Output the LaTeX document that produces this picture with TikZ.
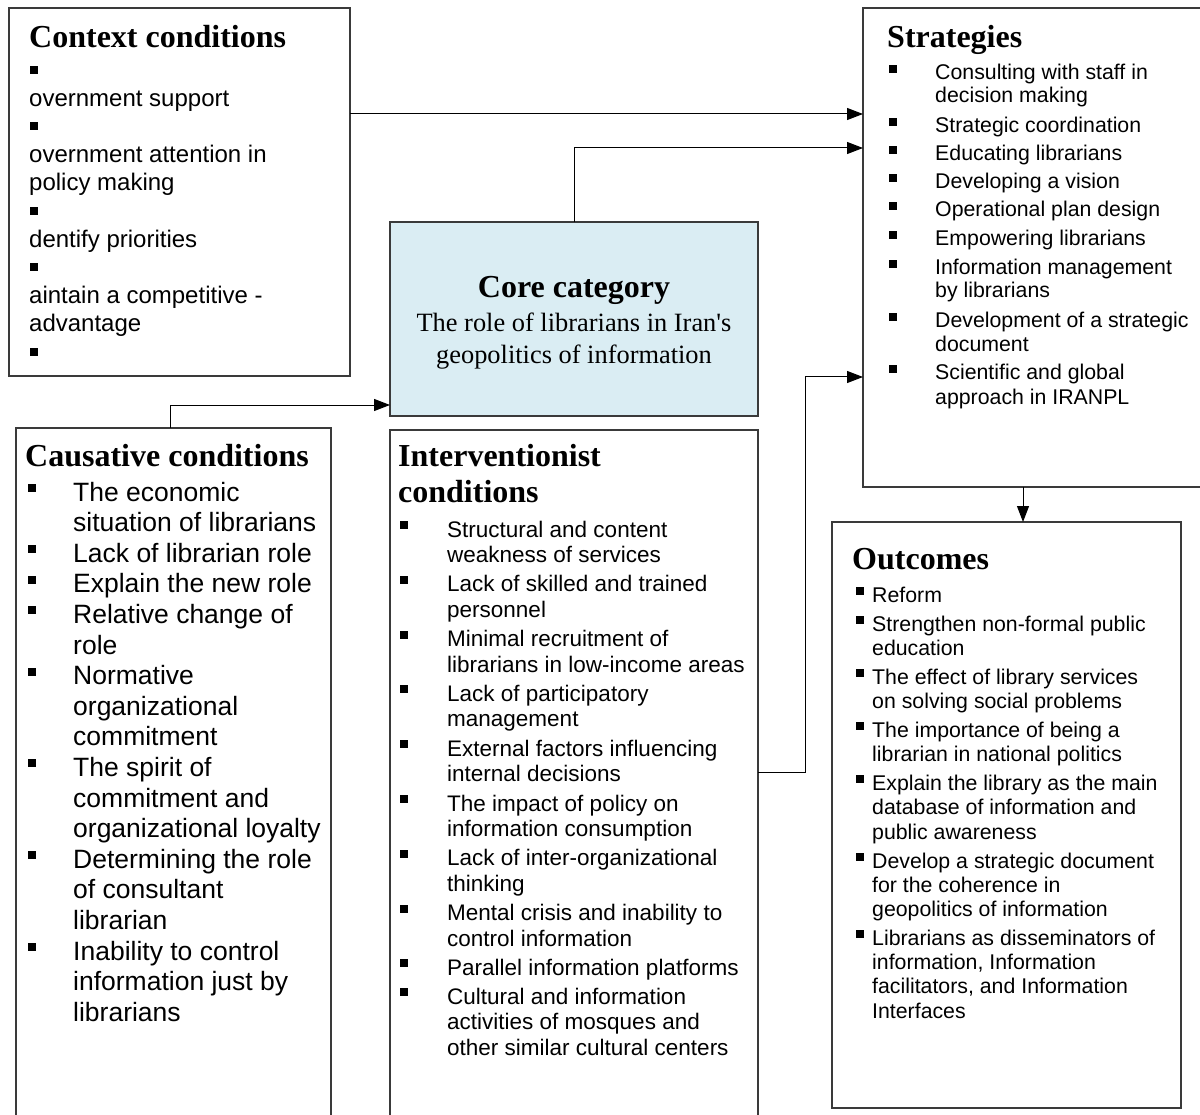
\documentclass[tikz,border=0pt]{standalone}
\usepackage{fontspec}
\setmainfont{Liberation Serif}
\setsansfont{Liberation Sans}
\newfontfamily\rawserif{Liberation Serif}[Ligatures=TeXOff]
\usetikzlibrary{arrows.meta}
\definecolor{coreblue}{HTML}{DAEDF3}
\definecolor{boxline}{HTML}{3A3A3A}
\begin{document}
\begin{tikzpicture}[x=1pt,y=-1pt,
  box/.style={draw=boxline, line width=1.4pt, inner sep=0pt, outer sep=0pt, anchor=north west},
  ttl/.style={font=\bfseries\fontsize{32}{32}\selectfont, inner sep=0pt, anchor=base west},
  ctxtxt/.style={font=\sffamily\fontsize{24}{24}\selectfont, inner sep=0pt, anchor=base west},
  strtxt/.style={font=\sffamily\fontsize{21.3}{21.3}\selectfont, inner sep=0pt, anchor=base west},
  cautxt/.style={font=\sffamily\fontsize{26.5}{26.5}\selectfont, inner sep=0pt, anchor=base west},
  inttxt/.style={font=\sffamily\fontsize{22.5}{22.5}\selectfont, inner sep=0pt, anchor=base west},
  outtxt/.style={font=\sffamily\fontsize{21.3}{21.3}\selectfont, inner sep=0pt, anchor=base west},
  coretxt/.style={font=\rawserif\fontsize{26.4}{26.4}\selectfont, inner sep=0pt, anchor=base},
  arr/.style={draw=black, line width=1pt, -{Triangle[length=16pt,width=12pt]}}
]
\useasboundingbox (0,0) rectangle (1200,1115);
\fill[white] (0,0) rectangle (1200,1115);

% boxes
\node[box, minimum width=341, minimum height=368] (ctx) at (9,8) {};
\node[box, minimum width=342, minimum height=479] (str) at (863,8) {};
\node[box, fill=coreblue, minimum width=368, minimum height=194] (core) at (390,222) {};
\node[box, minimum width=315, minimum height=700] (cau) at (16,428) {};
\node[box, minimum width=368, minimum height=700] (int) at (390,430) {};
\node[box, minimum width=349, minimum height=586] (out) at (832,522) {};

% connectors
\draw[arr] ([yshift=-106]ctx.north east) -- ([yshift=-106]str.north west);
\draw[arr] (core.north) |- ([yshift=-140]str.north west);
\draw[arr] ([xshift=-3.5]cau.north) |- ([yshift=11]core.south west);
\draw[arr] ([yshift=-342]int.north east) -- ++(47,0) |- ([yshift=-369]str.north west);
\coordinate (sb) at ([xshift=-11]str.south);
\draw[arr] (sb) -- (sb |- out.north);

% Context conditions
\node[ttl] (ctxt) at (29,47.7) {Context conditions};
\foreach \yy/\bb/\tx [count=\i] in {78/1/{}, 106.2/0/{overnment support}, 134.4/1/{},
  162.6/0/{overnment attention in}, 190.8/0/{policy making}, 219/1/{},
  247.2/0/{dentify priorities}, 275.4/1/{}, 303.6/0/{aintain a competitive -},
  331.8/0/{advantage}, 360/1/{}}{
  \ifnum\bb=1 \fill (30,\yy-12) rectangle ++(8,8);\else
  \node[ctxtxt] (c\i) at (29,\yy) {\tx};\fi
}

% Strategies
\node[ttl] (strt) at (887,47.7) {Strategies};
\foreach \yy/\bb/\tx [count=\i] in {80/1/{Consulting with staff in}, 103/0/{decision making},
  132.7/1/{Strategic coordination}, 161/1/{Educating librarians}, 189/1/{Developing a vision},
  217/1/{Operational plan design}, 246/1/{Empowering librarians},
  275/1/{Information management}, 298/0/{by librarians},
  328/1/{Development of a strategic}, 352/0/{document},
  380/1/{Scientific and global}, 404/0/{approach in IRANPL}}{
  \node[strtxt] (s\i) at (935,\yy) {\tx};
  \ifnum\bb=1 \fill (889,\yy-15) rectangle ++(8,8);\fi
}

% Core category
\node[font=\bfseries\fontsize{32}{32}\selectfont, inner sep=0pt, anchor=base] (coret) at (574,298) {Core category};
\node[coretxt] (core1) at (574,332) {The role of librarians in Iran's};
\node[coretxt] (core2) at (574,363) {geopolitics of information};

% Causative conditions
\node[ttl] (caut) at (25,466) {Causative conditions};
\foreach \bb/\tx [count=\i] in {1/{The economic}, 0/{situation of librarians},
  1/{Lack of librarian role}, 1/{Explain the new role}, 1/{Relative change of}, 0/{role},
  1/{Normative}, 0/{organizational}, 0/{commitment}, 1/{The spirit of},
  0/{commitment and}, 0/{organizational loyalty}, 1/{Determining the role},
  0/{of consultant}, 0/{librarian}, 1/{Inability to control},
  0/{information just by}, 0/{librarians}}{
  \pgfmathsetmacro{\yy}{501+30.6*(\i-1)}
  \node[cautxt] (a\i) at (73,\yy) {\tx};
  \ifnum\bb=1 \fill (28,\yy-17) rectangle ++(8,8);\fi
}

% Interventionist conditions
\node[ttl] (intt1) at (398,466) {Interventionist};
\node[ttl] (intt2) at (398,502) {conditions};
\foreach \yy/\bb/\tx [count=\i] in {537/1/{Structural and content}, 562.5/0/{weakness of services},
  591.8/1/{Lack of skilled and trained}, 617.3/0/{personnel},
  646.6/1/{Minimal recruitment of}, 672.1/0/{librarians in low-income areas},
  701.4/1/{Lack of participatory}, 726.9/0/{management},
  756.2/1/{External factors influencing}, 781.7/0/{internal decisions},
  811/1/{The impact of policy on}, 836.5/0/{information consumption},
  865.8/1/{Lack of inter-organizational}, 891.3/0/{thinking},
  920.6/1/{Mental crisis and inability to}, 946.1/0/{control information},
  975.4/1/{Parallel information platforms},
  1004.4/1/{Cultural and information}, 1029.9/0/{activities of mosques and},
  1055.4/0/{other similar cultural centers}}{
  \node[inttxt] (n\i) at (447,\yy) {\tx};
  \ifnum\bb=1 \fill (400,\yy-16) rectangle ++(8,8);\fi
}

% Outcomes
\node[ttl] (outt) at (852,569) {Outcomes};
\foreach \yy/\bb/\tx [count=\i] in {602/1/{Reform}, 631/1/{Strengthen non-formal public},
  655/0/{education}, 684/1/{The effect of library services}, 708/0/{on solving social problems},
  737/1/{The importance of being a}, 761/0/{librarian in national politics},
  790/1/{Explain the library as the main}, 814.5/0/{database of information and},
  839/0/{public awareness}, 868/1/{Develop a strategic document},
  892/0/{for the coherence in}, 916.5/0/{geopolitics of information},
  945/1/{Librarians as disseminators of}, 969/0/{{information, Information}},
  993.5/0/{{facilitators, and Information}}, 1018/0/{Interfaces}}{
  \node[outtxt] (o\i) at (872,\yy) {\tx};
  \ifnum\bb=1 \fill (856,\yy-15.5) rectangle ++(8,8);\fi
}
\end{tikzpicture}
\end{document}
